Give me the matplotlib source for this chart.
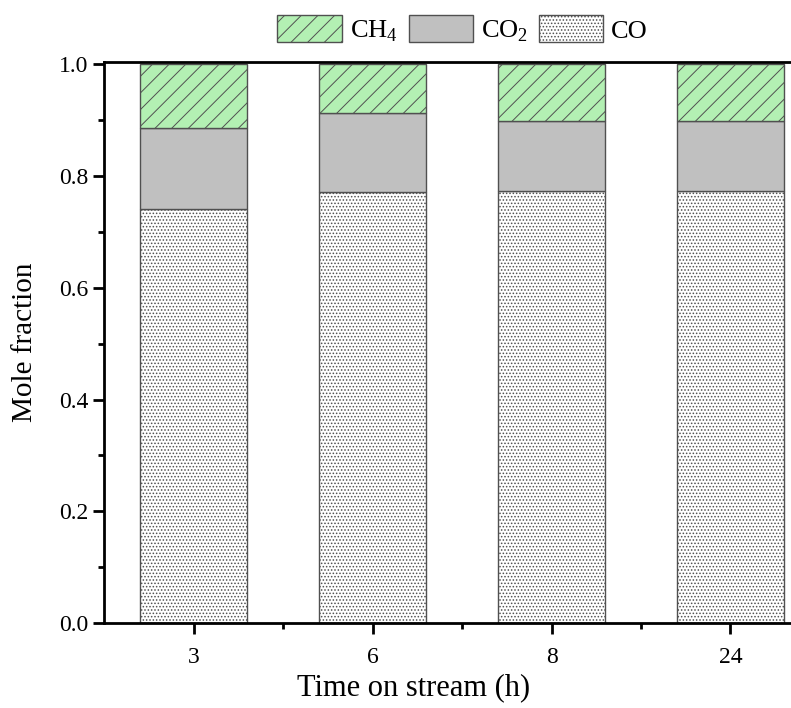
import matplotlib
matplotlib.use('Agg')
import matplotlib.pyplot as plt
import numpy as np

plt.rcParams['font.family'] = 'Liberation Serif'
plt.rcParams['mathtext.fontset'] = 'custom'
plt.rcParams['mathtext.rm'] = 'Liberation Serif'
plt.rcParams['hatch.linewidth'] = 0.7

times = ['3', '6', '8', '24']
co = [0.741, 0.771, 0.773, 0.773]
co2 = [0.145, 0.142, 0.126, 0.126]
ch4 = [0.114, 0.087, 0.101, 0.101]

fig = plt.figure(figsize=(7.91, 7.08), dpi=100)
ax = fig.add_axes([0.1315, 0.12, 0.8685, 0.793])

x = np.arange(len(times))
w = 0.6
edge = '#505050'

b1 = ax.bar(x, co, w, color='white', edgecolor=edge, hatch='.....', linewidth=1, label='CO')
b2 = ax.bar(x, co2, w, bottom=co, color='#c0c0c0', edgecolor=edge, linewidth=1, label='CO$_2$')
b3 = ax.bar(x, ch4, w, bottom=np.array(co) + np.array(co2), color='#b3f0b3',
            edgecolor=edge, hatch='//', linewidth=1, label='CH$_4$')

ax.set_xlim(-0.5, 3.338)
ax.set_ylim(0, 1.005)
ax.set_xticks(x)
ax.set_xticklabels(times)
ax.set_xticks([0.5, 1.5, 2.5], minor=True)
ax.set_yticks([0, 0.2, 0.4, 0.6, 0.8, 1.0])
ax.set_yticks([0.1, 0.3, 0.5, 0.7, 0.9], minor=True)
ax.tick_params(which='major', direction='out', length=8, width=2, labelsize=17)
ax.tick_params(which='minor', direction='out', length=4.5, width=2)
ax.tick_params(axis='x', pad=9)

for s in ['left', 'bottom', 'top']:
    ax.spines[s].set_linewidth(2)
ax.spines['right'].set_visible(False)

ax.set_xlabel('Time on stream (h)', fontsize=22)
ax.xaxis.set_label_coords(0.45, -0.09)
ax.set_ylabel('Mole fraction', fontsize=21, labelpad=15)

fig.legend([b3, b2, b1], ['CH$_4$', 'CO$_2$', 'CO'], loc='center', bbox_to_anchor=(0.585, 0.958),
           ncol=3, frameon=False, fontsize=19, handlelength=2.45, handleheight=1.17,
           handletextpad=0.3, columnspacing=0.4)

fig.savefig('out.png', dpi=100)
